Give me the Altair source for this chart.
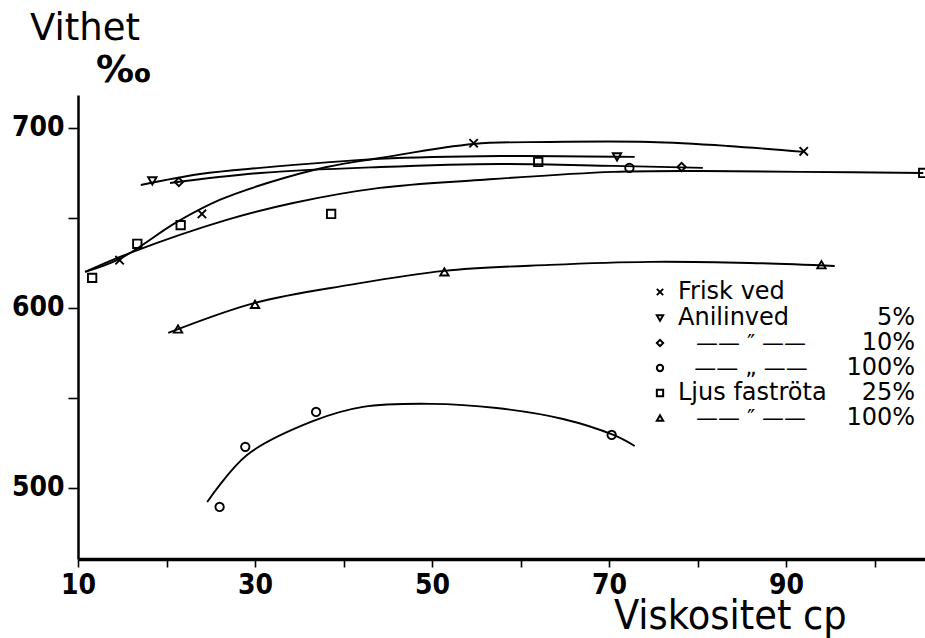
import altair as alt
import pandas as pd

# ---------------- data ----------------
# measured points
frisk_x = [14.7, 24.0, 54.7, 92.0]
frisk_y = [626.5, 652.2, 691.5, 687.0]

anilin5_x = [18.4, 70.9]
anilin5_y = [670.6, 683.9]

anilin10_x = [21.4, 72.3, 78.2]
anilin10_y = [670.0, 677.8, 678.3]
anilin10_marker = ["diamond", "circle", "diamond"]

anilin100_x = [26.0, 28.9, 36.9, 70.3]
anilin100_y = [489.4, 522.8, 542.2, 529.4]

ljus25_x = [11.6, 16.7, 21.6, 38.6, 62.0, 105.5]
ljus25_y = [616.7, 635.6, 646.0, 652.2, 681.1, 675.0]

ljus100_x = [21.3, 30.0, 51.4, 94.0]
ljus100_y = [588.3, 602.0, 620.0, 624.0]

# hand-drawn fitted curves
c_frisk_x = [10.8, 14.7, 21.2, 26.0, 31.4, 38.1, 44.1, 54.7, 63.3, 74.6, 83.4, 92.0]
c_frisk_y = [620.0, 627.2, 647.8, 660.0, 669.4, 678.3, 683.3, 691.1, 692.2, 692.2, 690.0, 686.7]

c_ljus25_x = [10.8, 15.9, 26.8, 34.3, 44.1, 55.4, 70.5, 80.3, 91.6, 105.5]
c_ljus25_y = [620.0, 630.6, 648.9, 658.3, 666.7, 671.1, 675.6, 676.1, 675.6, 675.0]

c_anilin5_x = [17.1, 23.8, 30.6, 44.1, 57.7, 72.9]
c_anilin5_y = [668.3, 674.4, 677.8, 682.8, 684.4, 683.9]

c_anilin10_x = [20.4, 30.6, 44.1, 57.7, 70.5, 80.6]
c_anilin10_y = [669.4, 675.0, 678.3, 680.0, 678.9, 677.8]

c_ljus100_x = [20.2, 30.0, 40.7, 51.4, 63.3, 74.6, 85.9, 95.5]
c_ljus100_y = [586.1, 602.8, 612.8, 620.6, 623.9, 625.6, 625.0, 623.3]

c_anilin100_x = [24.6, 29.1, 36.6, 42.2, 49.8, 57.3, 64.8, 70.5, 72.9]
c_anilin100_y = [492.2, 518.3, 537.2, 545.0, 546.7, 544.4, 538.3, 529.4, 523.3]

x_tick_values = [10, 20, 30, 40, 50, 60, 70, 80, 90, 100]
x_tick_labels = [10, 30, 50, 70, 90]
y_tick_values = [500, 550, 600, 650, 700]
y_tick_labels = [500, 600, 700]

legend_markers = ["x", "triangle-down", "diamond", "circle", "square", "triangle-up"]
legend_names = ["Frisk ved", "Anilinved", "\u2014\u2014 \u2033 \u2014\u2014",
                "\u2014\u2014 \u201e \u2014\u2014", "Ljus faströta",
                "\u2014\u2014 \u2033 \u2014\u2014"]
legend_pct = ["", "5%", "10%", "100%", "25%", "100%"]

y_title = "Vithet"
y_unit = "\u2030"
x_title = "Viskositet cp"

# ---------------- tables ----------------
def pts(xs, ys, markers):
    return [{"x": a, "y": b, "m": m} for a, b, m in zip(xs, ys, markers)]

points = pd.DataFrame(
    pts(frisk_x, frisk_y, ["x"] * len(frisk_x))
    + pts(anilin5_x, anilin5_y, ["triangle-down"] * len(anilin5_x))
    + pts(anilin10_x, anilin10_y, anilin10_marker)
    + pts(anilin100_x, anilin100_y, ["circle"] * len(anilin100_x))
    + pts(ljus25_x, ljus25_y, ["square"] * len(ljus25_x))
    + pts(ljus100_x, ljus100_y, ["triangle-up"] * len(ljus100_x))
)

curve_rows = []
for name, xs, ys in [("frisk", c_frisk_x, c_frisk_y), ("l25", c_ljus25_x, c_ljus25_y),
                     ("a5", c_anilin5_x, c_anilin5_y), ("a10", c_anilin10_x, c_anilin10_y),
                     ("l100", c_ljus100_x, c_ljus100_y), ("a100", c_anilin100_x, c_anilin100_y)]:
    for i, (a, b) in enumerate(zip(xs, ys)):
        curve_rows.append({"curve": name, "x": a, "y": b, "o": i})
curves = pd.DataFrame(curve_rows)

X0, X1 = 10, 105.7
Y0, Y1 = 460.5, 718.3
W, H = 847, 464

shape_domain = ["x", "triangle-down", "diamond", "circle", "square", "triangle-up"]
shape_range = ["M-1,-1L1,1M1,-1L-1,1", "triangle-down", "diamond", "circle", "square", "triangle-up"]

xscale = alt.Scale(domain=[X0, X1], nice=False, zero=False)
yscale = alt.Scale(domain=[Y0, Y1], nice=False, zero=False)

FONT = "DejaVu Sans"
NARROW = "DejaVu Sans Condensed, Liberation Sans Narrow, DejaVu Sans"

x_axis = alt.Axis(
    values=x_tick_values,
    labelExpr="indexof(" + str(x_tick_labels) + ", datum.value) >= 0 ? datum.label : ''",
    grid=False, domainColor="black", domainWidth=3.5, tickColor="black", tickWidth=1.6,
    tickSize=8, labelFont=NARROW, labelFontSize=28, labelFontWeight="bold", labelColor="black",
    labelPadding=4, title=None, labelFlush=False,
)
y_axis = alt.Axis(
    values=y_tick_values,
    labelExpr="indexof(" + str(y_tick_labels) + ", datum.value) >= 0 ? datum.label : ''",
    grid=False, domainColor="black", domainWidth=2.5, tickColor="black", tickWidth=1.6,
    tickSize=10, labelFont=NARROW, labelFontSize=28, labelFontWeight="bold", labelColor="black",
    labelPadding=4, title=None,
)

lines = alt.Chart(curves).mark_line(
    color="black", strokeWidth=1.9, interpolate="catmull-rom", clip=False
).encode(
    x=alt.X("x:Q", scale=xscale, axis=x_axis),
    y=alt.Y("y:Q", scale=yscale, axis=y_axis),
    detail="curve:N",
    order="o:Q",
)

marks = alt.Chart(points).mark_point(
    filled=False, color="black", strokeWidth=1.9, size=70, opacity=1, clip=False
).encode(
    x=alt.X("x:Q", scale=xscale),
    y=alt.Y("y:Q", scale=yscale),
    shape=alt.Shape("m:N", scale=alt.Scale(domain=shape_domain, range=shape_range), legend=None),
)

# ---------------- legend (annotation) ----------------
row_y = [197, 223, 248, 273, 298, 323]
leg = pd.DataFrame({"m": legend_markers, "name": legend_names, "pct": legend_pct, "py": row_y})
leg["is_dash"] = leg["name"].str.startswith("\u2014")

leg_marks = alt.Chart(leg).mark_point(
    filled=False, color="black", strokeWidth=2, size=40, opacity=1
).encode(
    x=alt.value(582),
    y=alt.Y("py:Q", scale=None),
    shape=alt.Shape("m:N", scale=alt.Scale(domain=shape_domain, range=shape_range), legend=None),
)
leg_names = alt.Chart(leg).transform_filter("!datum.is_dash").mark_text(
    align="left", baseline="middle", font=FONT, fontSize=24, color="black"
).encode(x=alt.value(600), y=alt.Y("py:Q", scale=None), text="name:N")
leg_dash = alt.Chart(leg).transform_filter("datum.is_dash").mark_text(
    align="center", baseline="middle", font=FONT, fontSize=22, color="black"
).encode(x=alt.value(673), y=alt.Y("py:Q", scale=None), text="name:N")
leg_pct = alt.Chart(leg).mark_text(
    align="right", baseline="middle", font=FONT, fontSize=24, color="black"
).encode(x=alt.value(837), y=alt.Y("py:Q", scale=None), text="pct:N")

# ---------------- titles ----------------
def label(txt, px, py, size, font, weight="normal"):
    return alt.Chart(pd.DataFrame({"t": [txt]})).mark_text(
        align="left", baseline="alphabetic", color="black", font=font,
        fontSize=size, fontWeight=weight
    ).encode(x=alt.value(px), y=alt.value(py), text="t:N")

t_y = label(y_title, -48, -55, 37, FONT)
t_unit = label(y_unit, 18, -13, 38, FONT, "bold")
t_x = label(x_title, 536, 534, 41, NARROW)

chart = alt.layer(lines, marks, leg_marks, leg_names, leg_dash, leg_pct,
                  t_y, t_unit, t_x).properties(
    width=W, height=H,
    autosize=alt.AutoSizeParams(type="none"),
    padding={"left": 78, "top": 95, "right": 0, "bottom": 79},
    background="white",
).configure_view(stroke=None)

chart.save("out.html", embed_options={"renderer": "svg", "actions": False})
